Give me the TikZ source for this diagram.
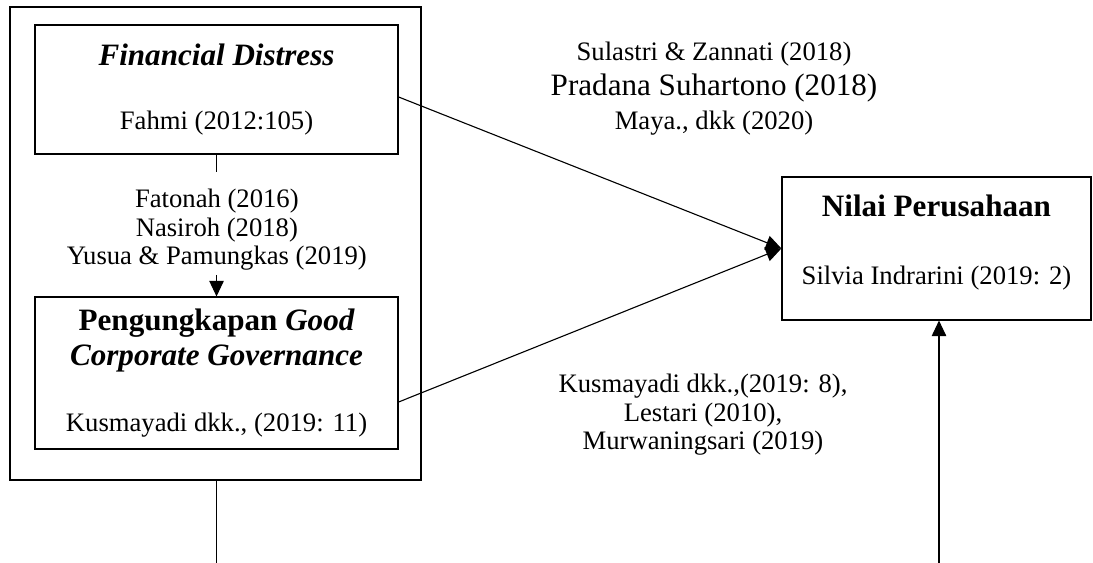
\documentclass[tikz,border=0pt]{standalone}
\usepackage{fontspec}
\setmainfont{Liberation Serif}
\usetikzlibrary{arrows.meta}

\newcommand{\bigtxt}{\fontsize{14}{15.5}\selectfont}

\begin{document}
\begin{tikzpicture}[
  every node/.style={font=\fontsize{12}{12.8}\selectfont},
  box/.style={draw, line width=0.5pt, align=center, inner sep=0pt},
  cite/.style={align=center},
  link/.style={line width=0.5pt},
  arr/.style={line width=0.5pt, -{Triangle[length=7pt, width=6.5pt]}},
]

% Canvas
\useasboundingbox (0,0) rectangle (17.289, 8.905);

% Outer frame
\node[draw, line width=1.2pt, minimum width=6.501cm, minimum height=7.482cm, inner sep=0pt] (frame) at (3.409, 5.054) {};

% Variable boxes
\node[box, minimum width=5.742cm, minimum height=2.040cm] (fd) at (3.425, 7.490)
  {{\bigtxt\bfseries\itshape Financial Distress}\\[15.7pt] Fahmi (2012:105)};

\node[box, minimum width=5.742cm, minimum height=2.404cm] (gcg) at (3.425, 3.005)
  {{\bigtxt\bfseries Pengungkapan \itshape Good}\\[3pt]
   {\bigtxt\bfseries\itshape Corporate Governance}\\[17pt]
   Kusmayadi dkk., (2019: 11)};

\node[box, minimum width=4.888cm, minimum height=2.262cm] (nv) at (14.813, 4.975)
  {{\bigtxt\bfseries Nilai Perusahaan}\\[18pt] Silvia Indrarini (2019: 2)\rule[-8pt]{0pt}{8pt}};

% Citations
\node[cite] (c1) at (3.43, 5.27) {Fatonah (2016)\\Nasiroh (2018)\\Yusua \& Pamungkas (2019)};
\node[cite] (c2) at (11.294, 7.50) {Sulastri \& Zannati (2018)\\[2.7pt]{\bigtxt Pradana Suhartono (2018)}\\[2.7pt]Maya., dkk (2020)};
\node[cite] (c3) at (11.12, 2.341) {Kusmayadi dkk.,(2019: 8),\\Lestari (2010),\\Murwaningsari (2019)};

% Free ends
\coordinate (fdlow) at (3.425, 6.185);
\coordinate (gcup) at (3.425, 4.556);
\coordinate (framelow) at (3.425, 0);
\coordinate (nvlow) at (14.853, 0);

% Connectors
\draw[link] (fd.south) -- (fdlow);
\draw[arr] (gcup) -- (gcg.north);
\draw[arr] ([yshift=-0.119cm]fd.east) -- (nv.west);
\draw[arr] ([yshift=-0.459cm]gcg.east) -- (nv.west);
\draw[link] (frame.south -| framelow) -- (framelow);
\draw[arr] (nvlow) -- (nvlow |- nv.south);

\end{tikzpicture}
\end{document}
